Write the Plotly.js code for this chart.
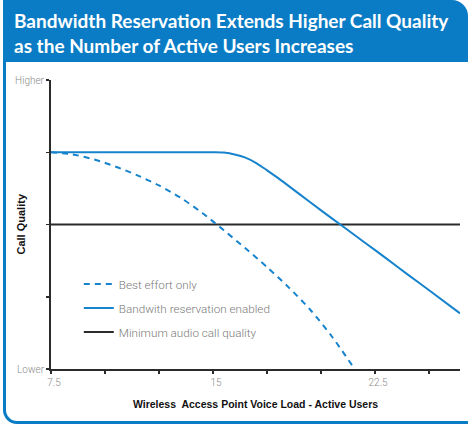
<!DOCTYPE html>
<html>
<head>
<meta charset="utf-8">
<script src="https://cdn.plot.ly/plotly-3.0.1.min.js"></script>
<style>
  html, body { margin: 0; padding: 0; background: #ffffff; }
  #wrap { position: relative; width: 468px; height: 424px; overflow: hidden; background: #ffffff; }
  #frame { position: absolute; left: 3px; top: 0; width: 520px; height: 424px; box-sizing: border-box;
           border-left: 3px solid #0a7cc5; border-bottom: 3px solid #0a7cc5; border-bottom-left-radius: 14px; }
  #header { position: absolute; left: 3px; top: 0; width: 465px; height: 62px; background: #0a7cc5;
            border-top-right-radius: 16px; }
  #chart { position: absolute; left: 0; top: 0; width: 468px; height: 424px; }
</style>
</head>
<body>
<div id="wrap">
  <div id="frame"></div>
  <div id="header"></div>
  <div id="chart"></div>
</div>
<script>
// ---- data ----
const bestEffortX = [7.5, 8.5, 9.5, 10.5, 11.5, 12.5, 13.5, 14.5, 15.5, 16.5, 17.5, 18.5, 19.5, 20.5, 21.55];
const bestEffortY = [3, 2.97, 2.90, 2.80, 2.68, 2.54, 2.37, 2.16, 1.92, 1.67, 1.41, 1.13, 0.82, 0.45, 0];

const reservationX = [7.5, 15, 15.5, 16, 16.5, 17, 17.5, 18, 19, 20, 21, 22, 23, 24, 25, 26.43];
const reservationY = [3, 3, 2.995, 2.97, 2.925, 2.85, 2.75, 2.645, 2.42, 2.195, 1.975, 1.755, 1.535, 1.31, 1.09, 0.77];

const minimumQuality = 2;
const xStart = 7.5, xEnd = 26.43;

const xTickVals = [7.5, 10, 12.5, 15, 17.5, 20, 22.5, 25];
const xTickText = ['7.5', '', '', '15', '', '', '22.5', ''];
const yTickVals = [0, 1, 2, 3, 4];
const yTickText = ['Lower', '', '', '', 'Higher'];

const seriesNames = ['Best effort only', 'Bandwith reservation enabled', 'Minimum audio call quality'];

const blue = '#1683cc';
const dark = '#2b2b2b';

const traces = [
  {
    x: [xStart, xEnd], y: [minimumQuality, minimumQuality],
    name: seriesNames[2], mode: 'lines', legendgroup: 'c', legendrank: 3,
    line: { color: dark, width: 2 }, hoverinfo: 'skip'
  },
  {
    x: bestEffortX, y: bestEffortY,
    name: seriesNames[0], mode: 'lines', legendgroup: 'a', legendrank: 1,
    line: { color: blue, width: 2, dash: '6px,5px', shape: 'spline', smoothing: 0.8 }
  },
  {
    x: reservationX, y: reservationY,
    name: seriesNames[1], mode: 'lines', legendgroup: 'b', legendrank: 2,
    line: { color: blue, width: 2, shape: 'spline', smoothing: 0.8 }
  }
];

const layout = {
  width: 468, height: 424,
  paper_bgcolor: 'rgba(0,0,0,0)',
  plot_bgcolor: 'rgba(0,0,0,0)',
  margin: { l: 51, r: 8, t: 80, b: 55 },
  title: {
    text: 'Bandwidth Reservation Extends Higher Call Quality<br>as the Number of Active Users Increases',
    font: { family: 'Lato, Roboto, sans-serif', size: 19, color: '#ffffff', weight: 700 },
    x: 14 / 468, xanchor: 'left', xref: 'container',
    y: 0.934, yanchor: 'top', yref: 'container'
  },
  showlegend: true,
  legend: {
    x: 0.068, y: 0.344, xanchor: 'left', yanchor: 'top',
    traceorder: 'grouped', tracegroupgap: 5,
    bgcolor: 'rgba(0,0,0,0)',
    font: { family: 'Roboto, sans-serif', size: 11.7, color: '#7a7a7a', weight: 300 }
  },
  annotations: [
    {
      text: 'Call Quality', textangle: -90,
      xref: 'paper', yref: 'paper', x: (20 - 51) / 409, y: 0.5,
      xanchor: 'center', yanchor: 'middle', showarrow: false,
      font: { family: 'Liberation Sans, Arial, sans-serif', size: 11, color: '#111111', weight: 700 }
    }
  ],
  xaxis: {
    range: [xStart, xEnd],
    showgrid: false, zeroline: false,
    showline: true, linecolor: dark, linewidth: 2,
    ticks: 'outside', ticklen: 3, tickwidth: 1.5, tickcolor: dark,
    tickvals: xTickVals, ticktext: xTickText, ticklabelshift: 3,
    tickfont: { family: 'Roboto, sans-serif', size: 10, color: '#8a8a8a', weight: 300 },
    title: {
      text: 'Wireless&nbsp; Access Point Voice Load - Active Users',
      font: { family: 'Liberation Sans, Arial, sans-serif', size: 10.5, color: '#111111', weight: 700 },
      standoff: 14
    }
  },
  yaxis: {
    range: [0, 4],
    showgrid: false, zeroline: false,
    showline: true, linecolor: dark, linewidth: 2,
    ticks: 'outside', ticklen: 3, tickwidth: 1.5, tickcolor: dark,
    tickvals: yTickVals, ticktext: yTickText,
    tickfont: { family: 'Roboto, sans-serif', size: 10, color: '#8a8a8a', weight: 300 }
  }
};

Plotly.newPlot('chart', traces, layout, { displayModeBar: false, staticPlot: true });
</script>
</body>
</html>
